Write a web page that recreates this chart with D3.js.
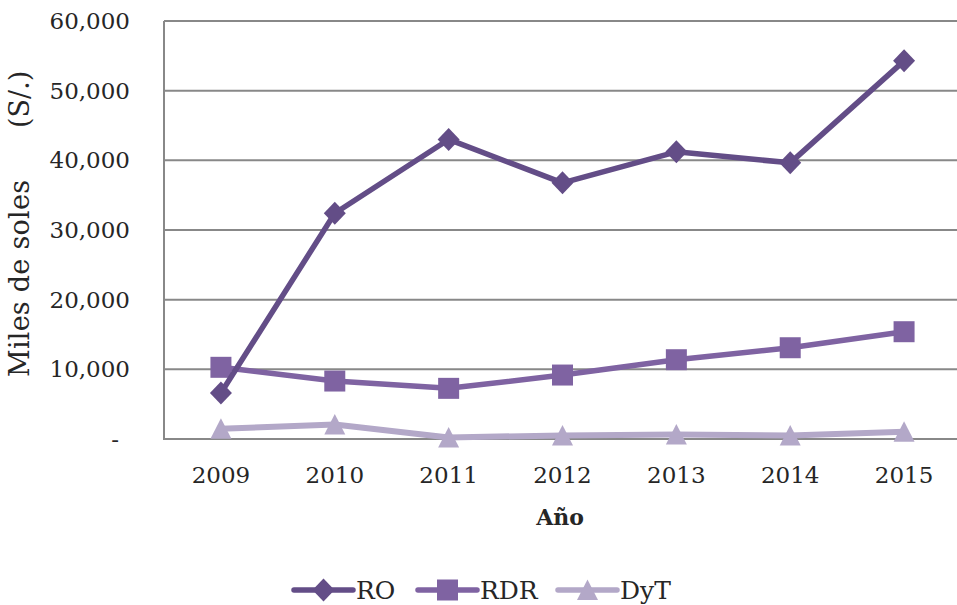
<!DOCTYPE html>
<html><head><meta charset="utf-8">
<script src="https://cdn.jsdelivr.net/npm/d3@7"></script>
<style>body{margin:0;background:#fff}svg{display:block}text{font-family:"DejaVu Serif",serif;fill:#262626}</style>
</head><body>
<svg id="c" width="957" height="605"></svg>
<script>
const years = ["2009","2010","2011","2012","2013","2014","2015"];
const roValues  = [6600, 32400, 43000, 36770, 41220, 39640, 54280];
const rdrValues = [10290, 8320, 7270, 9180, 11380, 13100, 15400];
const dytValues = [1470, 2080, 230, 510, 660, 490, 1050];
const yTicks = [0, 10000, 20000, 30000, 40000, 50000, 60000];
const seriesNames = ["RO","RDR","DyT"];
const seriesColors = ["#634d87","#7f63a2","#b3a8c8"];
const seriesSymbols = ["diamond","square","triangle"];

const svg = d3.select("#c");
const pLeft = 164, pRight = 961, pTop = 21, pBottom = 439;
const x = d3.scaleBand().domain(years).range([pLeft, pRight]);
const y = d3.scaleLinear().domain([0, 60000]).range([pBottom, pTop]);

// gridlines
svg.append("g").selectAll("line").data(yTicks).join("line")
  .attr("x1", pLeft).attr("x2", 957)
  .attr("y1", d => y(d)).attr("y2", d => y(d))
  .attr("stroke", "#888").attr("stroke-width", 2);
svg.append("line").attr("x1", pLeft).attr("x2", pLeft).attr("y1", pTop).attr("y2", pBottom+1)
  .attr("stroke", "#888").attr("stroke-width", 2);

// y tick labels
const fmt = d3.format(",");
svg.append("g").selectAll("text").data(yTicks).join("text")
  .attr("x", d => d === 0 ? 119 : 130)
  .attr("y", d => y(d) + 8)
  .attr("text-anchor", "end")
  .attr("font-size", 23)
  .text(d => d === 0 ? "-" : fmt(d));

// x tick labels
svg.append("g").selectAll("text").data(years).join("text")
  .attr("x", d => x(d) + x.bandwidth()/2)
  .attr("y", 483)
  .attr("text-anchor", "middle")
  .attr("font-size", 23)
  .text(d => d);

// axis titles
svg.append("text").attr("x", 560).attr("y", 525).attr("text-anchor","middle")
  .attr("font-weight","bold").style("font-size","22px").text("Año");
svg.append("text").attr("transform","translate(29,377) rotate(-90)").attr("text-anchor","start")
  .attr("font-size", 27).attr("textLength", 197).text("Miles de soles");
svg.append("text").attr("transform","translate(29,128) rotate(-90)").attr("text-anchor","start")
  .attr("font-size", 27).text("(S/.)");

const markerPath = {
  diamond: "M0,-11.5L11,0L0,11.5L-11,0Z",
  square: "M-10.5,-10.5H10.5V10.5H-10.5Z",
  triangle: "M0,-10.5L10.5,10L-10.5,10Z"
};
const allSeries = [roValues, rdrValues, dytValues];
const line = d3.line().x((d,i) => x(years[i]) + x.bandwidth()/2).y(d => y(d));

[2,1,0].forEach(si => {
  const vals = allSeries[si];
  const g = svg.append("g");
  g.append("path").datum(vals).attr("d", line).attr("fill","none")
    .attr("stroke", seriesColors[si]).attr("stroke-width", si === 2 ? 6 : 5.5).attr("stroke-linejoin","round");
  g.selectAll("path.m").data(vals).join("path").attr("class","m")
    .attr("transform", (d,i) => `translate(${x(years[i]) + x.bandwidth()/2},${y(d)})`)
    .attr("d", markerPath[seriesSymbols[si]])
    .attr("fill", seriesColors[si]);
});

// legend
const legX = [294, 418, 558];
seriesNames.forEach((n, i) => {
  const g = svg.append("g").attr("transform", `translate(${legX[i]},590)`);
  g.append("line").attr("x1", 0).attr("x2", 59).attr("y1", 0).attr("y2", 0)
    .attr("stroke", seriesColors[i]).attr("stroke-width", 5.5).attr("stroke-linecap","round");
  g.append("path").attr("transform", `translate(29.5,0)`)
    .attr("d", markerPath[seriesSymbols[i]]).attr("fill", seriesColors[i]);
  g.append("text").attr("x", 62).attr("y", 9).attr("font-size", 25).text(n);
});
</script>
</body></html>
